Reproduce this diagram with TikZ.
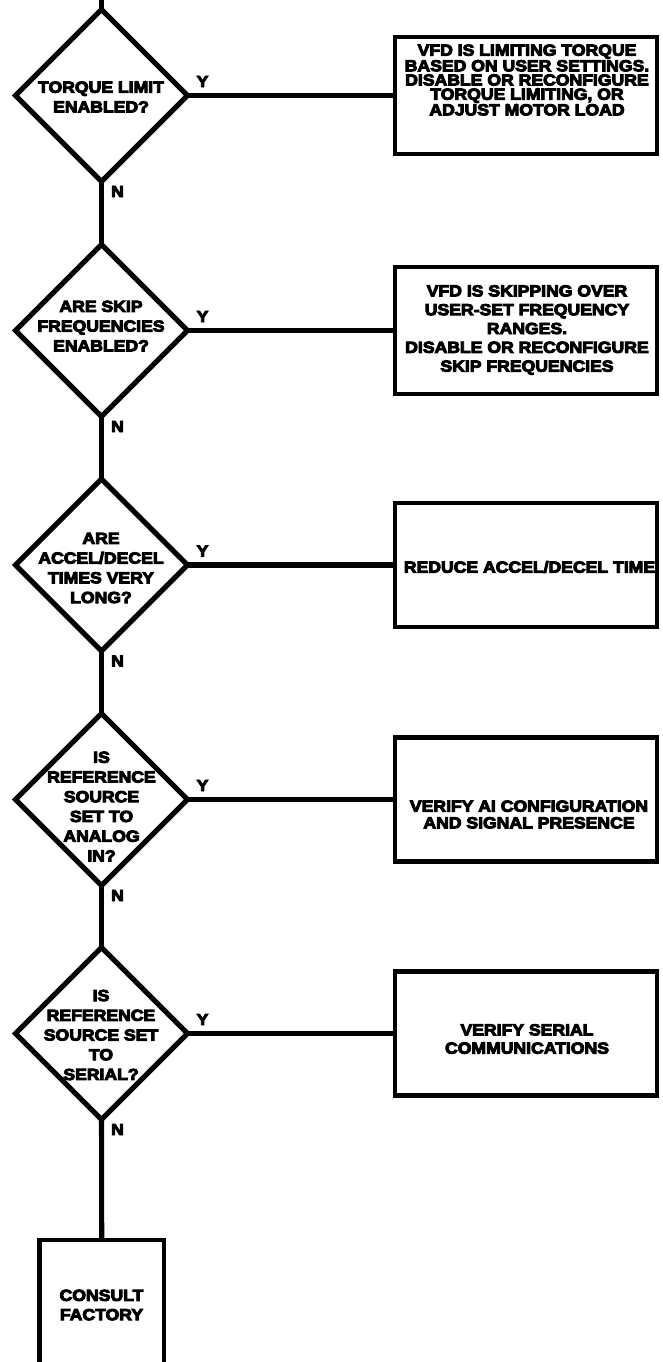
\documentclass[tikz,border=0pt]{standalone}
\usepackage{fontspec}
\newfontfamily\blk{Liberation Sans}[UprightFont={* Bold}, FakeStretch=1.1, FakeBold=6]
\usetikzlibrary{shapes.geometric}
\tikzset{
  lw/.style={line width=3.8pt},
  dia/.style={draw, lw, shape=diamond, minimum width=172*0.75pt, minimum height=172*0.75pt, inner sep=0pt, outer sep=0pt},
  box/.style={draw, line width=3.3pt, rectangle, minimum width=262*0.75pt, inner sep=0pt, outer sep=0pt},
  txt/.style={inner sep=0pt, align=center, font=\blk\fontsize{12pt}{14.8pt}\selectfont},
  yn/.style={inner sep=0pt, font=\blk\fontsize{12pt}{14.8pt}\selectfont},
  conn/.style={lw}
}
\begin{document}
\begin{tikzpicture}[x=0.75pt,y=-0.75pt]
\fill[white] (0,0) rectangle (662,1362);
\useasboundingbox (0,0) rectangle (662,1362);
% decision diamonds
\node[dia] (d1) at (101.5,95.5) {};
\node[dia] (d2) at (101.5,330.5) {};
\node[dia] (d3) at (101.5,565) {};
\node[dia] (d4) at (101.5,799.5) {};
\node[dia] (d5) at (101.5,1033.5) {};
% texts of diamonds
\node[txt] (d1t) at (101,97) {TORQUE LIMIT\\ENABLED?};
\node[txt] (d2t) at (101,326) {ARE SKIP\\FREQUENCIES\\ENABLED?};
\node[txt] (d3t) at (101,568) {ARE\\ACCEL/DECEL\\TIMES VERY\\LONG?};
\node[txt] (d4t) at (101.5,806.5) {IS\\REFERENCE\\SOURCE\\SET TO\\ANALOG\\IN?};
\node[txt] (d5t) at (101,1035) {IS\\REFERENCE\\SOURCE SET\\TO\\SERIAL?};
% action boxes
\node[box, minimum height=117*0.75pt] (r1) at (526,95.5) {};
\node[box, minimum height=127*0.75pt] (r2) at (526,330.5) {};
\node[box, minimum height=124*0.75pt] (r3) at (526,565) {};
\node[box, minimum height=124*0.75pt] (r4) at (526,799.5) {};
\node[box, minimum height=124*0.75pt] (r5) at (526,1033.5) {};
\node[box, minimum width=124.5*0.75pt, minimum height=130*0.75pt] (cf) at (101.75,1305) {};
% texts of boxes
\node[txt, font=\blk\fontsize{12pt}{10.65pt}\selectfont] (r1t) at (527,80) {VFD IS LIMITING TORQUE\\BASED ON USER SETTINGS.\\DISABLE OR RECONFIGURE\\TORQUE LIMITING, OR\\ADJUST MOTOR LOAD};
\node[txt, font=\blk\fontsize{12pt}{14.1pt}\selectfont] (r2t) at (527,330) {VFD IS SKIPPING OVER\\USER-SET FREQUENCY\\RANGES.\\DISABLE OR RECONFIGURE\\SKIP FREQUENCIES};
\node[txt] (r3t) at (529.5,567) {REDUCE ACCEL/DECEL TIME};
\node[txt, font=\blk\fontsize{12pt}{12.5pt}\selectfont] (r4t) at (529,814.5) {VERIFY AI CONFIGURATION\\AND SIGNAL PRESENCE};
\node[txt, font=\blk\fontsize{12pt}{13.7pt}\selectfont] (r5t) at (527,1039) {VERIFY SERIAL\\COMMUNICATIONS};
\node[txt, font=\blk\fontsize{12pt}{14.5pt}\selectfont] (cft) at (101.5,1305) {CONSULT\\FACTORY};
% connectors
\coordinate (top) at (101.5,0);
\draw[conn] (top) -- (d1.north);
\draw[conn] (d1.south) -- (d2.north);
\draw[conn] (d2.south) -- (d3.north);
\draw[conn] (d3.south) -- (d4.north);
\draw[conn] (d4.south) -- (d5.north);
\draw[conn] (d5.south) -- (cf.north);
\draw[conn] (d1.east) -- (r1.west);
\draw[conn] (d2.east) -- (r2.west);
\draw[conn] (d3.east) -- (r3.west);
\draw[conn] (d4.east) -- (r4.west);
\draw[conn] (d5.east) -- (r5.west);
% Y / N labels
\foreach \i in {1,...,5} {
  \node[yn] (y\i) at ([shift={(15,-14)}]d\i.east) {Y};
  \node[yn] (n\i) at ([shift={(16,10)}]d\i.south) {N};
}
\end{tikzpicture}
\end{document}
